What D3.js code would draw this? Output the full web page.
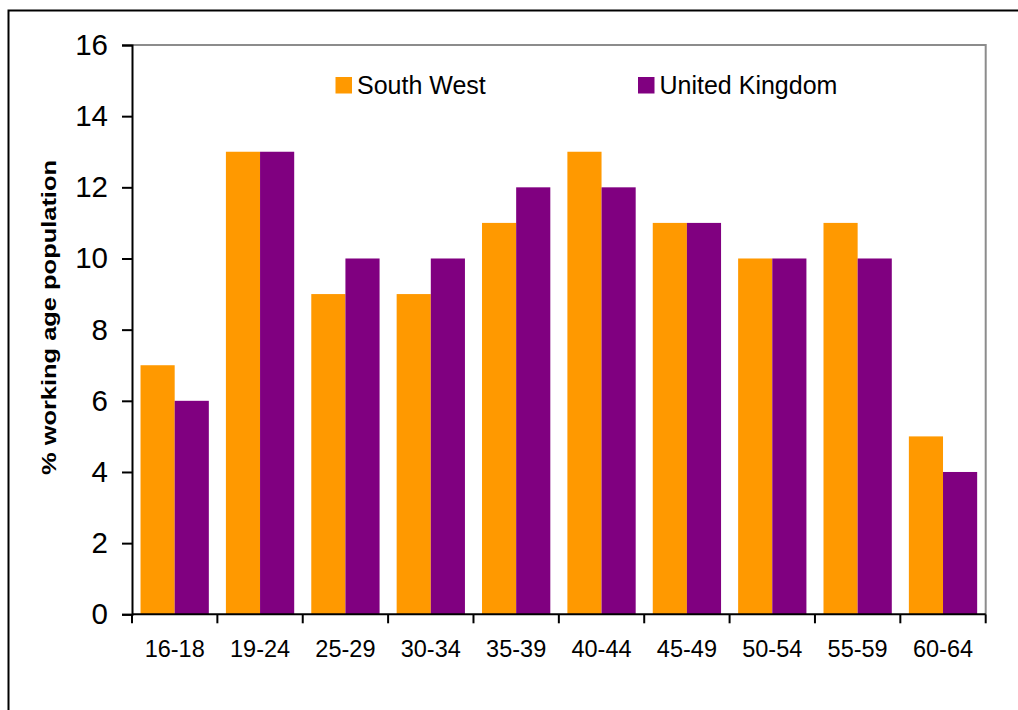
<!DOCTYPE html>
<html>
<head>
<meta charset="utf-8">
<script src="https://cdn.jsdelivr.net/npm/d3@7"></script>
<style>
  html, body { margin: 0; padding: 0; background: #fff; }
  svg { display: block; font-family: "Liberation Sans", Arial, sans-serif; }
</style>
</head>
<body>
<svg id="chart" width="1018" height="710"></svg>
<script>
// Age bands and share of working age population (%)
const ageBands = ["16-18", "19-24", "25-29", "30-34", "35-39", "40-44", "45-49", "50-54", "55-59", "60-64"];
const southWest = [7, 13, 9, 9, 11, 13, 11, 10, 11, 5];
const unitedKingdom = [6, 13, 10, 10, 12, 12, 11, 10, 10, 4];
const seriesNames = ["South West", "United Kingdom"];
const seriesColors = ["#FF9900", "#800080"];
const yTicks = [0, 2, 4, 6, 8, 10, 12, 14, 16];

const svg = d3.select("#chart");

// Outer frame (runs off the right and bottom edges)
svg.append("rect")
  .attr("x", 8.5).attr("y", 10.5)
  .attr("width", 1030).attr("height", 720)
  .attr("fill", "none").attr("stroke", "#000").attr("stroke-width", 2);

const plot = { left: 132, right: 985.7, top: 45, bottom: 614.3 };

const x = d3.scaleBand().domain(ageBands).range([plot.left, plot.right]).paddingInner(0).paddingOuter(0);
const inner = d3.scaleBand().domain(seriesNames).range([0, x.bandwidth()]).paddingInner(0).paddingOuter(0.25);
const y = d3.scaleLinear().domain([0, 16]).range([plot.bottom, plot.top]);

// Plot area frame (top and right in grey)
svg.append("path")
  .attr("d", `M${plot.left},${plot.top}H${plot.right}V${plot.bottom}`)
  .attr("fill", "none").attr("stroke", "#8c8c8c").attr("stroke-width", 2);

// Bars
const rows = ageBands.map((b, i) => ({ band: b, values: [southWest[i], unitedKingdom[i]] }));
svg.append("g").selectAll("g").data(rows).join("g")
  .attr("transform", d => `translate(${x(d.band)},0)`)
  .selectAll("rect").data(d => d.values.map((v, k) => ({ key: seriesNames[k], v, k })))
  .join("rect")
  .attr("x", d => inner(d.key))
  .attr("width", inner.bandwidth())
  .attr("y", d => y(d.v))
  .attr("height", d => y(0) - y(d.v))
  .attr("fill", d => seriesColors[d.k]);

// Y axis
const yAxis = svg.append("g")
  .attr("transform", `translate(${plot.left},0)`)
  .call(d3.axisLeft(y).tickValues(yTicks).tickSize(10).tickPadding(14).tickFormat(d3.format("d")));
yAxis.select(".domain").attr("stroke", "#000").attr("stroke-width", 2);
yAxis.selectAll(".tick line").attr("stroke", "#000").attr("stroke-width", 2);
yAxis.selectAll(".tick text")
  .attr("font-size", 29.5).attr("fill", "#000")
  .attr("font-family", "Liberation Sans, Arial, sans-serif");

// X axis with tick marks between bands
const xAxis = svg.append("g").attr("transform", `translate(0,${plot.bottom})`);
xAxis.append("line")
  .attr("x1", plot.left).attr("x2", plot.right)
  .attr("stroke", "#000").attr("stroke-width", 2);
const boundaries = ageBands.map(b => x(b)).concat([plot.right]);
xAxis.selectAll("line.tk").data(boundaries).join("line")
  .attr("class", "tk")
  .attr("x1", d => d).attr("x2", d => d)
  .attr("y1", 0).attr("y2", 9)
  .attr("stroke", "#000").attr("stroke-width", 2);
xAxis.selectAll("text").data(ageBands).join("text")
  .attr("x", d => x(d) + x.bandwidth() / 2)
  .attr("y", 42.5)
  .attr("text-anchor", "middle")
  .attr("font-size", 23.5)
  .attr("fill", "#000")
  .text(d => d);

// Y axis title
svg.append("text")
  .attr("transform", "translate(56,317.5) rotate(-90)")
  .attr("text-anchor", "middle")
  .attr("font-size", 19.5)
  .attr("font-weight", "bold")
  .attr("fill", "#000")
  .attr("textLength", 315)
  .attr("lengthAdjust", "spacingAndGlyphs")
  .text("% working age population");

// Legend
const legendX = [335.5, 638];
const legend = svg.append("g").selectAll("g").data(seriesNames).join("g")
  .attr("transform", (d, i) => `translate(${legendX[i]},77)`);
legend.append("rect")
  .attr("width", 16.5).attr("height", 16.5)
  .attr("fill", (d, i) => seriesColors[i]);
legend.append("text")
  .attr("x", 21.5).attr("y", 16.5)
  .attr("font-size", 25)
  .attr("fill", "#000")
  .text(d => d);
</script>
</body>
</html>
